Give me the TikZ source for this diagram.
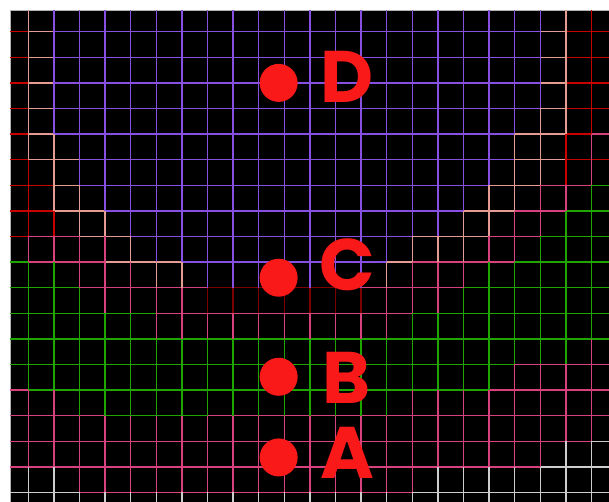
\documentclass[tikz,border=0pt]{standalone}
\usepackage{fontspec}
\newfontfamily\labelfont{Poppins}

\definecolor{gridred}{RGB}{200,0,0}
\definecolor{gridsalmon}{RGB}{228,155,145}
\definecolor{gridpurple}{RGB}{135,80,225}
\definecolor{gridpink}{RGB}{215,65,125}
\definecolor{gridgreen}{RGB}{30,165,0}
\definecolor{gridwhite}{RGB}{205,205,205}
\definecolor{griddark}{RGB}{125,0,0}
\definecolor{markred}{RGB}{250,25,25}

% edges of the black field, in grid units
\def\gL{-0.715}
\def\gR{22.684}
\def\gT{-0.848}
\def\gB{18.371}

\begin{document}
\begin{tikzpicture}[
    x=25.6pt, y=-25.6pt,
    gline/.style={line width=1.3pt},
    dot/.style={circle, fill=markred, minimum size=38pt, inner sep=0pt},
    letter/.style={text=markred, inner sep=0pt, font=\labelfont\bfseries\fontsize{73}{73}\selectfont}
]
\useasboundingbox (-1.1055,-1.238) rectangle (22.684,18.371);
\fill[white] (-1.1055,-1.238) rectangle (22.684,18.371);
\fill[black] (\gL,\gT) rectangle (\gR,\gB);
\draw[gray!60] (\gL,\gB) -- (\gL,\gT) -- (\gR,\gT);

% horizontal lines
\foreach \j in {0,...,3}
  \foreach \a/\b/\col in {\gL/0/gridred, 0/1/gridsalmon, 1/20/gridpurple, 20/21/gridsalmon, 21/\gR/gridred}
    \draw[gline, draw=\col] (\a,\j) -- (\b,\j);
\foreach \j/\a/\b/\col in {
    4/\gL/0/gridred, 4/0/1/gridsalmon, 4/1/19/gridpurple, 4/19/21/gridsalmon, 4/21/22/gridred, 4/22/\gR/gridpink,
    5/\gL/0/gridred, 5/0/2/gridsalmon, 5/2/19/gridpurple, 5/19/21/gridsalmon, 5/21/\gR/gridred,
    6/\gL/1/gridred, 6/1/2/gridsalmon, 6/2/18/gridpurple, 6/18/20/gridsalmon, 6/20/22/gridpink, 6/22/\gR/gridgreen,
    7/\gL/1/gridred, 7/1/3/gridsalmon, 7/3/17/gridpurple, 7/17/19/gridsalmon, 7/19/21/gridpink, 7/21/\gR/gridgreen,
    8/\gL/0/gridred, 8/0/2/gridpink, 8/2/4/gridsalmon, 8/4/15/gridpurple, 8/15/18/gridsalmon, 8/18/20/gridpink, 8/20/\gR/gridgreen,
    9/\gL/0/gridgreen, 9/0/3/gridpink, 9/3/6/gridsalmon, 9/6/14/gridpurple, 9/14/15/gridsalmon, 9/15/19/gridpink, 9/19/\gR/gridgreen,
    10/\gL/2/gridgreen, 10/2/7/gridpink, 10/7/13/griddark, 10/13/17/gridpink, 10/17/\gR/gridgreen,
    11/\gL/5/gridgreen, 11/5/15/gridpink, 11/15/\gR/gridgreen,
    12/\gL/\gR/gridgreen,
    13/\gL/19/gridgreen, 13/19/\gR/gridpink,
    14/\gL/0/gridpink, 14/0/18/gridgreen, 14/18/\gR/gridpink,
    15/\gL/3/gridpink, 15/3/7/gridgreen, 15/7/\gR/gridpink,
    16/\gL/22/gridpink, 16/22/\gR/gridwhite,
    17/\gL/20/gridpink, 17/20/\gR/gridwhite,
    18/\gL/2/gridwhite, 18/2/15/gridpink, 18/15/\gR/gridwhite}
  \draw[gline, draw=\col] (\a,\j) -- (\b,\j);

% vertical lines
\foreach \i in {7,...,13}
  \foreach \a/\b/\col in {\gT/10/gridpurple, 10/11/griddark, 11/12/gridpink, 12/15/gridgreen, 15/18/gridpink, 18/\gB/gridwhite}
    \draw[gline, draw=\col] (\i,\a) -- (\i,\b);
\foreach \i/\a/\b/\col in {
    0/\gT/5/gridsalmon, 0/5/8/gridred, 0/8/9/gridpink, 0/9/14/gridgreen, 0/14/17/gridpink, 0/17/\gB/gridwhite,
    1/\gT/4/gridpurple, 1/4/7/gridsalmon, 1/7/8/gridred, 1/8/9/gridpink, 1/9/14/gridgreen, 1/14/17/gridpink, 1/17/\gB/gridwhite,
    2/\gT/6/gridpurple, 2/6/8/gridsalmon, 2/8/10/gridpink, 2/10/15/gridgreen, 2/15/18/gridpink, 2/18/\gB/gridwhite,
    3/\gT/7/gridpurple, 3/7/8/gridsalmon, 3/8/11/gridpink, 3/11/15/gridgreen, 3/15/18/gridpink, 3/18/\gB/gridwhite,
    4/\gT/8/gridpurple, 4/8/9/gridsalmon, 4/9/11/gridpink, 4/11/15/gridgreen, 4/15/18/gridpink, 4/18/\gB/gridwhite,
    5/\gT/9/gridpurple, 5/9/10/gridsalmon, 5/10/12/gridpink, 5/12/15/gridgreen, 5/15/18/gridpink, 5/18/\gB/gridwhite,
    6/\gT/9/gridpurple, 6/9/10/gridsalmon, 6/10/12/gridpink, 6/12/15/gridgreen, 6/15/18/gridpink, 6/18/\gB/gridwhite,
    14/\gT/9/gridpurple, 14/9/10/gridsalmon, 14/10/12/gridpink, 14/12/15/gridgreen, 14/15/18/gridpink, 14/18/\gB/gridwhite,
    15/\gT/8/gridpurple, 15/8/9/gridsalmon, 15/9/11/gridpink, 15/11/14/gridgreen, 15/14/18/gridpink, 15/18/\gB/gridwhite,
    16/\gT/8/gridpurple, 16/8/9/gridsalmon, 16/9/11/gridpink, 16/11/14/gridgreen, 16/14/17/gridpink, 16/17/\gB/gridwhite,
    17/\gT/7/gridpurple, 17/7/9/gridsalmon, 17/9/10/gridpink, 17/10/14/gridgreen, 17/14/17/gridpink, 17/17/\gB/gridwhite,
    18/\gT/6/gridpurple, 18/6/8/gridsalmon, 18/8/9/gridpink, 18/9/14/gridgreen, 18/14/17/gridpink, 18/17/\gB/gridwhite,
    19/\gT/4/gridpurple, 19/4/7/gridsalmon, 19/7/9/gridpink, 19/9/13/gridgreen, 19/13/17/gridpink, 19/17/\gB/gridwhite,
    20/\gT/3/gridpurple, 20/3/6/gridsalmon, 20/6/8/gridpink, 20/8/13/gridgreen, 20/13/17/gridpink, 20/17/\gB/gridwhite,
    21/\gT/4/gridsalmon, 21/4/6/gridred, 21/6/7/gridpink, 21/7/13/gridgreen, 21/13/16/gridpink, 21/16/\gB/gridwhite,
    22/\gT/4/gridred, 22/4/6/gridpink, 22/6/12/gridgreen, 22/12/16/gridpink, 22/16/\gB/gridwhite}
  \draw[gline, draw=\col] (\i,\a) -- (\i,\b);

% points
\node[dot] (pD) at (9.78,2.0) {};
\node[dot] (pC) at (9.78,9.61) {};
\node[dot] (pB) at (9.78,13.48) {};
\node[dot] (pA) at (9.78,16.63) {};

\node[letter] (lD) at (12.45,1.75) {D};
\node[letter] (lC) at (12.45,9.11) {C};
\node[letter] (lB) at (12.45,13.51) {B};
\node[letter] (lA) at (12.45,16.46) {A};
\end{tikzpicture}
\end{document}
